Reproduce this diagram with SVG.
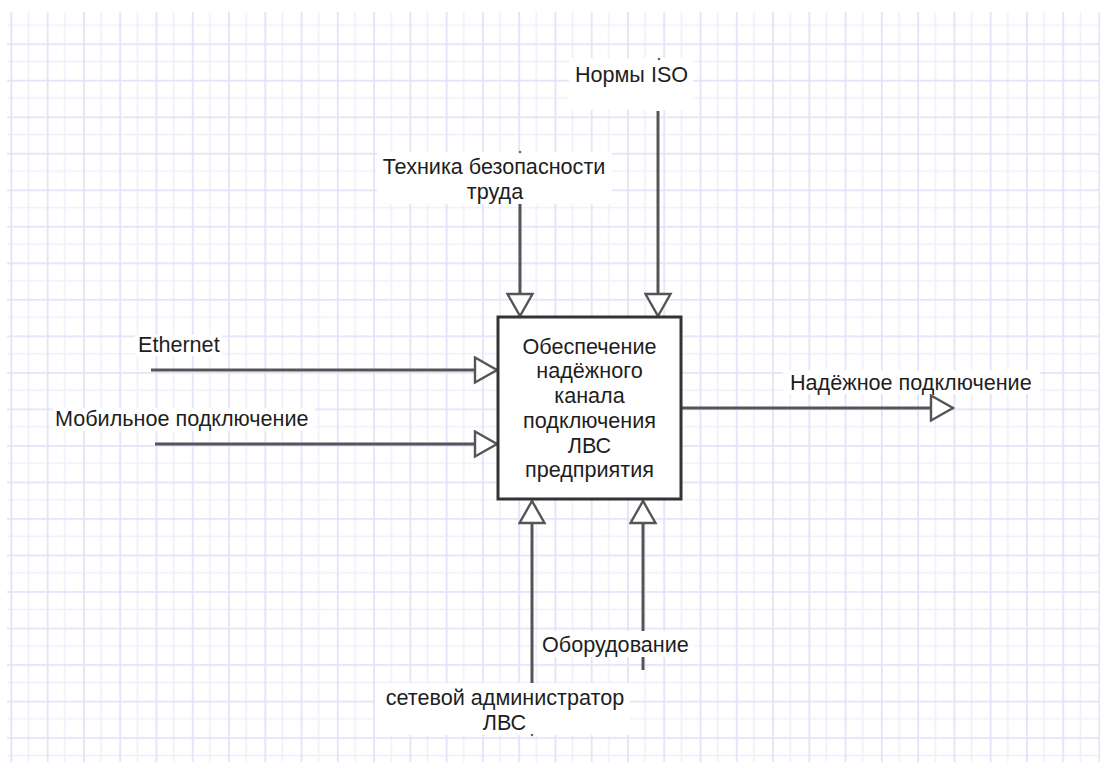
<svg xmlns="http://www.w3.org/2000/svg" width="1100" height="762" viewBox="0 0 1100 762">
  <defs>
    <pattern id="grid" patternUnits="userSpaceOnUse" x="10.43" y="6.78" width="36.27" height="36.52">
      <path d="M18.13 0V36.52M0 18.26H36.27" stroke="#efeffd" stroke-width="1.6" fill="none"/>
      <path d="M0.8 0V36.52M0 0.8H36.27" stroke="#e3e3fa" stroke-width="2" fill="none"/>
    </pattern>
    <marker id="tri" markerUnits="userSpaceOnUse" viewBox="-2 -2 26 29" markerWidth="26" markerHeight="29" refX="22" refY="12.5" orient="auto">
      <path d="M0,0 L22,12.5 L0,25 Z" fill="#fff" stroke="#555" stroke-width="2.4" stroke-linejoin="miter"/>
    </marker>
    <style>
      .t{font-family:"Liberation Sans",Arial,sans-serif;font-size:21.6px;fill:#1e1e1e}
      .m{text-anchor:middle}
      .ln{stroke:#555;stroke-width:3;fill:none;marker-end:url(#tri)}
      .ln2{stroke:#555;stroke-width:3;fill:none}
      .bg{fill:#fff}
      .dot{fill:#666}
    </style>
  </defs>
  <rect width="1100" height="762" fill="#fff"/>
  <rect x="7" y="12" width="1093" height="750" fill="url(#grid)"/>

  <g id="connectors">
    <line class="ln" x1="151" y1="370" x2="497" y2="370"/>
    <line class="ln" x1="155" y1="444" x2="497" y2="444"/>
    <line class="ln" x1="681" y1="408" x2="953" y2="408"/>
    <line class="ln" x1="520" y1="204" x2="520" y2="316"/>
    <line class="ln" x1="658" y1="111" x2="658" y2="316"/>
    <line class="ln" x1="532" y1="683" x2="532" y2="501"/>
    <line class="ln" x1="643" y1="631" x2="643" y2="501"/>
    <line class="ln2" x1="643" y1="657" x2="643" y2="670"/>
  </g>

  <g id="label-tehnika">
    <rect class="bg" x="377" y="152" width="235" height="52"/>
    <circle class="dot" cx="520" cy="152" r="1.3"/>
    <text class="t m" x="494" y="174">Техника безопасности</text>
    <text class="t m" x="495" y="198.5">труда</text>
  </g>
  <g id="label-iso">
    <rect class="bg" x="569" y="58" width="124" height="52"/>
    <circle class="dot" cx="659" cy="59" r="1.3"/>
    <text class="t m" x="631.5" y="82">Нормы ISO</text>
  </g>
  <g id="label-ethernet">
    <rect class="bg" x="135" y="335" width="87" height="21"/>
    <text class="t" x="138" y="352">Ethernet</text>
  </g>
  <g id="label-mobile">
    <rect class="bg" x="53" y="408" width="262" height="23"/>
    <text class="t" x="55" y="426">Мобильное подключение</text>
  </g>
  <g id="label-output">
    <rect class="bg" x="783" y="370" width="257" height="24"/>
    <text class="t" x="790" y="390">Надёжное подключение</text>
  </g>
  <g id="label-admin">
    <rect class="bg" x="375" y="683" width="255" height="52"/>
    <circle class="dot" cx="532" cy="735" r="1.3"/>
    <text class="t m" x="505" y="705">сетевой администратор</text>
    <text class="t m" x="504.5" y="730">ЛВС</text>
  </g>
  <g id="label-equipment">
    <rect class="bg" x="537" y="631" width="157" height="26"/>
    <text class="t" x="542" y="652">Оборудование</text>
  </g>

  <g id="node-main">
    <rect x="498" y="317" width="183" height="182" fill="#fff" stroke="#333" stroke-width="3"/>
    <text class="t m" x="589.5" y="353.5">Обеспечение</text>
    <text class="t m" x="589.5" y="378">надёжного</text>
    <text class="t m" x="589.5" y="403">канала</text>
    <text class="t m" x="589.5" y="427.5">подключения</text>
    <text class="t m" x="589.5" y="452.5">ЛВС</text>
    <text class="t m" x="589.5" y="477">предприятия</text>
  </g>
</svg>
